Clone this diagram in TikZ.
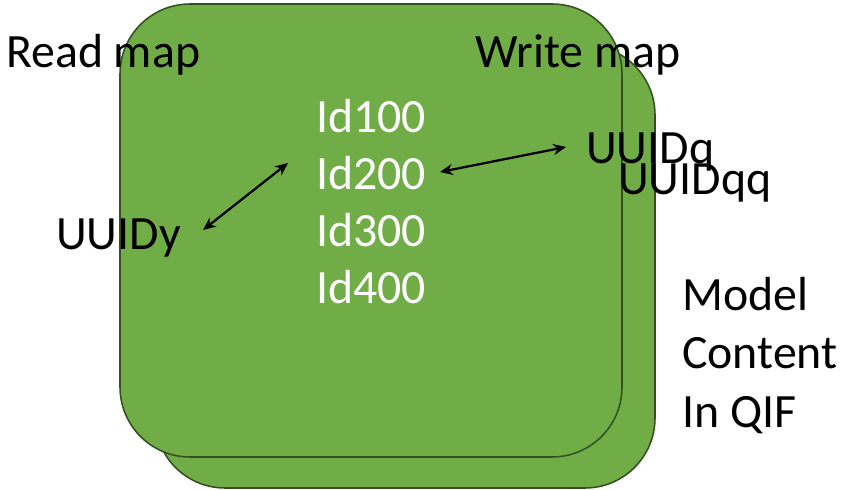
\documentclass[tikz,border=0pt]{standalone}
\usepackage{fontspec}
\setmainfont{Carlito}
\usepackage{tikz}
\usetikzlibrary{arrows.meta,positioning}
\definecolor{mapgreen}{RGB}{112,173,71}
\definecolor{mapedge}{RGB}{52,80,32}

\begin{document}
\begin{tikzpicture}[x=0.025cm, y=-0.025cm]
\tikzstyle{mapbox}=[draw=mapedge, line width=1.1pt, fill=mapgreen, rounded corners=1.75cm]
\tikzstyle{lbl}=[inner sep=0pt, anchor=base west, text=black, font=\fontsize{34}{41}\selectfont]
\tikzstyle{idl}=[lbl, text=white]
\tikzstyle{link}=[line width=1.6pt, {Stealth[length=3.2mm,width=2.8mm]}-{Stealth[length=3.2mm,width=2.8mm]}]
\useasboundingbox (0,0) rectangle (846,490);
\fill[white] (0,0) rectangle (846,490);
%% write map behind, read map in front
\draw[mapbox] (155,45) rectangle (655,488);
\draw[mapbox] (120,4) rectangle (622,457);
%%
\node (readl) at (6,68) [lbl] {Read map};
\node (writel) at (475,68) [lbl] {Write map};
\node (id100) at (316,133) [idl] {Id100};
\node (id200) at (316,190) [idl] {Id200};
\node (id300) at (316,247) [idl] {Id300};
\node (id400) at (316,304) [idl] {Id400};
\node (uuidy) at (56,250) [lbl] {UUIDy};
\node (uuidq) at (586,164) [lbl] {UUIDq};
\node (uuidqq) at (618,195) [lbl] {UUIDqq};
\node (model) at (682,311) [lbl] {Model};
\node (content) at (682,369) [lbl] {Content};
\node (qif) at (682,427) [lbl] {In QIF};

\coordinate (ya) at (203,230);
\coordinate (yb) at (288,163);
\coordinate (qa) at (440,172);
\coordinate (qb) at (566,147);
\draw [link] (ya) -- (yb);
\draw [link] (qa) -- (qb);
\end{tikzpicture}
\end{document}
